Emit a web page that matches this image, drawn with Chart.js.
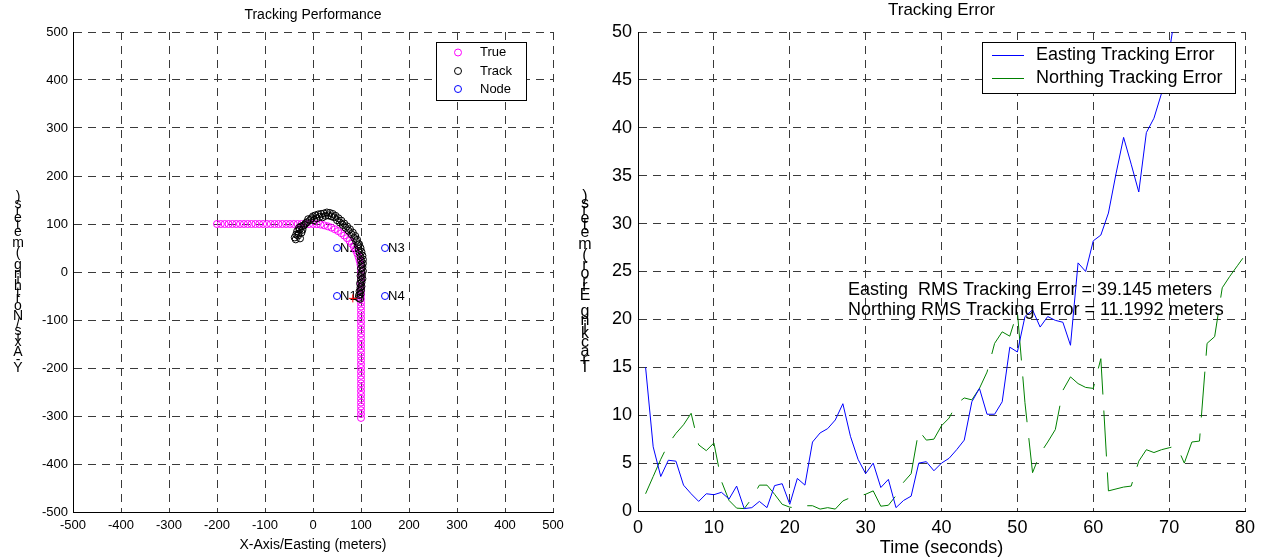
<!DOCTYPE html>
<html>
<head>
<meta charset="utf-8">
<script src="https://cdn.jsdelivr.net/npm/chart.js@4.4.0/dist/chart.umd.min.js"></script>
<style>
  body { margin: 0; background: #fff; width: 1265px; height: 560px; position: relative; overflow: hidden; }
  #left { position: absolute; left: 0; top: 0; }
  #right { position: absolute; left: 560px; top: 0; }
</style>
</head>
<body>
<canvas id="left" width="600" height="560"></canvas>
<canvas id="right" width="705" height="560"></canvas>
<script>
// ---- left plot: tracking performance ----
const trueX = [-200,-192,-184,-176,-168,-160,-152,-144,-136,-128,-120,-112,-104,-96,-88,-80,-72,-64,-56,-48,-40,-32,-24,-16,-8,0,
  7.8,15.6,23.3,30.9,38.3,45.4,52.2,58.8,64.9,70.7,76.0,80.9,85.3,89.1,92.4,95.1,97.2,98.8,99.7,100,
  100,100,100,100,100,100,100,100,100,100,100,100,100,100,100,100,100,100,100,100,
  100,100,100,100,100,100,100,100,100,100,100,100,100,100,100,100,100,100];
const trueY = [100,100,100,100,100,100,100,100,100,100,100,100,100,100,100,100,100,100,100,100,100,100,100,100,100,100,
  99.7,98.8,97.2,95.1,92.4,89.1,85.3,80.9,76.0,70.7,64.9,58.8,52.2,45.4,38.3,30.9,23.3,15.6,7.8,0,
  -8,-16,-24,-32,-40,-48,-56,-64,-72,-80,-88,-96,-104,-112,-120,-128,-136,-144,-152,-160,
  -168,-176,-184,-192,-200,-208,-216,-224,-232,-240,-248,-256,-264,-272,-280,-288,-296,-304];

const trackX = [-38,-36,-35,-33,-31,-30,-29,-28,-27,-25,-24,-22,-20,-18,-15,
  -12,-10,-6,-3,0,2,5,8,11,14,17,20,23,26,29,32,35,38,41,44,47,50,53,56,59,62,65,68,71,74,77,80,83,86,88,90,92,93,96,
  95,99,97,101,99,103,100,104,101,104,100,103,101,104,99,102,100,103,98,101,99,101,97,100,96,99,95,98];
const trackY = [72,68,78,85,76,80,92,88,70,95,82,88,96,98,102,
  104,110,108,112,116,108,118,112,120,115,121,114,122,117,124,118,123,116,121,114,117,108,112,103,107,98,101,92,95,86,89,79,82,71,75,64,67,56,58,
  48,50,40,42,32,34,24,26,16,18,8,10,0,2,-8,-6,-16,-14,-24,-22,-32,-30,-40,-38,-48,-46,-54,-56];

const nodeX = [50, 50, 150, 150];
const nodeY = [-50, 50, 50, -50];
const nodeNames = ['N1', 'N2', 'N3', 'N4'];

const finalX = [83];
const finalY = [-55];

const posTicks = [-500, -400, -300, -200, -100, 0, 100, 200, 300, 400, 500];

// ---- right plot: tracking error ----
const timeE = [1,2,3,4,5,6,7,8,9,10,11,12,13,14,15,16,17,18,19,20,21,22,23,24,25,26,27,28,29,30,
  31,32,33,34,35,36,37,38,39,40,41,42,43,44,45,46,47,48,49,50,51,52,53,54,55,56,57,58,59,60,
  61,62,63,64,65,66,67,68,69,70,71];
const eastingErr = [15.0,6.7,3.6,5.3,5.2,2.7,1.8,1.0,1.8,1.7,1.95,1.25,2.6,0.25,0.35,1.0,0.35,2.65,2.85,0.7,
  3.4,2.7,7.2,8.15,8.6,9.5,11.2,7.8,5.4,3.9,5.0,2.45,3.3,0.35,1.1,1.55,5.0,5.15,4.2,5.0,
  5.5,6.4,7.4,11.4,12.8,10.1,10.1,11.4,17.1,16.6,20.3,21.0,19.2,20.3,19.9,19.7,17.3,25.9,25.0,28.2,
  28.8,31.1,35.2,39.0,36.2,33.3,39.5,41.0,43.6,47.8,53.0];

const timeN = [1,2,3,4,5,6,7,8,9,10,11,12,13,14,15,16,17,18,19,20,21,22,23,24,25,26,27,28,29,30,
  31,32,33,34,35,36,37,38,39,40,41,42,43,44,45,46,47,48,49,50,51,52,53,54,55,56,57,58,59,60,
  61,62,63,64,65,66,67,68,69,70,71,72,73,74,75,76,77,78,79,80];
const northingErr = [1.8,3.6,5.4,7.0,8.1,9.0,10.2,6.9,6.3,7.1,3.1,1.1,0.3,0.25,1.3,2.7,2.7,1.75,0.7,0.4,
  0.3,0.55,0.55,0.2,0.35,0.2,1.05,1.4,1.55,1.75,2.1,0.5,0.6,1.6,3.0,3.9,8.4,7.4,7.5,8.9,
  9.7,11.2,11.8,11.6,12.8,14.5,17.5,18.7,18.25,20.8,11.3,4.0,6.0,7.2,8.5,12.6,14.0,13.3,12.9,12.8,
  15.9,2.1,2.3,2.5,2.6,5.2,6.4,6.1,6.4,6.6,6.8,5.0,7.2,7.3,17.5,18.2,23.3,24.5,25.6,26.7];

const timeTicks = [0, 10, 20, 30, 40, 50, 60, 70, 80];
const errTicks = [0, 5, 10, 15, 20, 25, 30, 35, 40, 45, 50];

const rmsLines = ['Easting  RMS Tracking Error = 39.145 meters', 'Northing RMS Tracking Error = 11.1992 meters'];

// ---- helpers ----
const FONT = '"Liberation Sans", Arial, sans-serif';
Chart.defaults.font.family = FONT;
Chart.defaults.color = '#000';

const pts = (xs, ys) => xs.map((x, i) => ({ x: x, y: ys[i] }));

// MATLAB-style stacked y label: upright glyphs laid along a vertical line
function stackedLabel(ctx, text, x, yBottom, yTop, size) {
  ctx.save();
  ctx.font = size + 'px ' + FONT;
  ctx.fillStyle = '#000';
  ctx.textAlign = 'center';
  ctx.textBaseline = 'middle';
  const total = ctx.measureText(text).width;
  const k = (yBottom - yTop) / total;
  let acc = 0;
  for (const ch of text) {
    const w = ctx.measureText(ch).width;
    if (ch !== ' ') ctx.fillText(ch, x, yBottom - k * (acc + w / 2));
    acc += w;
  }
  ctx.restore();
}

function fixedTicks(values) {
  return scale => { scale.ticks = values.map(v => ({ value: v })); };
}

const gridLine = { color: '#3a3a3a', lineWidth: 1, drawTicks: false };

// ---- left chart ----
const leftDecor = {
  id: 'leftDecor',
  beforeDatasetsDraw(chart) {
    const { ctx, scales: { x, y } } = chart;
    ctx.save();
    ctx.font = '13px ' + FONT;
    ctx.fillStyle = '#000';
    ctx.textBaseline = 'middle';
    nodeNames.forEach((n, i) => {
      ctx.fillText(n, x.getPixelForValue(nodeX[i]) + 3, y.getPixelForValue(nodeY[i]));
    });
    ctx.restore();
  },
  afterDraw(chart) {
    const ctx = chart.ctx;
    stackedLabel(ctx, 'Y-Axis/Northing (meters)', 18, 374, 196, 14);
    // legend
    ctx.save();
    ctx.fillStyle = '#fff';
    ctx.fillRect(436, 42, 90, 59);
    ctx.strokeStyle = '#000';
    ctx.lineWidth = 1;
    ctx.strokeRect(436.5, 42.5, 90, 58);
    const items = [['True', '#ff00ff'], ['Track', '#000000'], ['Node', '#0000ff']];
    const rows = [52.5, 71, 89];
    ctx.font = '13px ' + FONT;
    ctx.textBaseline = 'middle';
    items.forEach((it, i) => {
      ctx.beginPath();
      ctx.strokeStyle = it[1];
      ctx.arc(458, rows[i], 3.5, 0, Math.PI * 2);
      ctx.stroke();
      ctx.fillStyle = '#000';
      ctx.fillText(it[0], 480, rows[i]);
    });
    ctx.restore();
  }
};

const circle = (color, order) => ({
  pointStyle: 'circle', pointRadius: 3.5, pointHoverRadius: 3.5,
  pointBorderColor: color, pointBackgroundColor: 'rgba(0,0,0,0)', pointBorderWidth: 1,
  showLine: false, order: order
});

new Chart(document.getElementById('left'), {
  type: 'scatter',
  data: {
    datasets: [
      { label: 'True', data: pts(trueX, trueY), ...circle('#ff00ff', 4) },
      { label: 'Track', data: pts(trackX, trackY), ...circle('#000000', 3) },
      { label: 'Node', data: pts(nodeX, nodeY), ...circle('#0000ff', 2) },
      { label: 'Final', data: pts(finalX, finalY), pointStyle: 'cross', pointRadius: 4,
        pointBorderColor: '#ff0000', pointBorderWidth: 1, showLine: false, order: 1 }
    ]
  },
  options: {
    responsive: false,
    animation: false,
    layout: { padding: { left: 0, right: 47, top: 0, bottom: 0 } },
    plugins: {
      legend: { display: false },
      tooltip: { enabled: false },
      title: {
        display: true, text: 'Tracking Performance', fullSize: false,
        font: { size: 14, weight: 'normal' }, color: '#000',
        padding: { top: 6.6, bottom: 8.6 }
      }
    },
    scales: {
      x: {
        type: 'linear', min: -500, max: 500,
        afterBuildTicks: fixedTicks(posTicks),
        ticks: { padding: 6, font: { size: 13 }, color: '#000', maxRotation: 0 },
        grid: gridLine,
        border: { display: true, color: '#000', dash: [8, 6] },
        title: { display: true, text: 'X-Axis/Easting (meters)', font: { size: 14 }, color: '#000',
          padding: { top: 0, bottom: 6.6 } },
        afterFit: s => { s.height = 48; }
      },
      y: {
        type: 'linear', min: -500, max: 500,
        afterBuildTicks: fixedTicks(posTicks),
        ticks: { padding: 5, font: { size: 13 }, color: '#000' },
        grid: gridLine,
        border: { display: true, color: '#000', dash: [8, 6] },
        afterFit: s => { s.width = 73; }
      }
    }
  },
  plugins: [leftDecor]
});

// ---- right chart ----
const rightDecor = {
  id: 'rightDecor',
  afterDatasetsDraw(chart) {
    const ctx = chart.ctx;
    ctx.save();
    ctx.font = '18px ' + FONT;
    ctx.fillStyle = '#000';
    ctx.textBaseline = 'middle';
    ctx.fillText(rmsLines[0], 848 - 560, 290);
    ctx.fillText(rmsLines[1], 848 - 560, 310);
    ctx.restore();
  },
  afterDraw(chart) {
    const ctx = chart.ctx;
    stackedLabel(ctx, 'Tracking Error (meters)', 25, 373, 194, 16);
    // legend
    const lx = 982 - 560;
    ctx.save();
    ctx.fillStyle = '#fff';
    ctx.fillRect(lx, 42, 253, 51);
    ctx.strokeStyle = '#000';
    ctx.lineWidth = 1;
    ctx.strokeRect(lx + 0.5, 42.5, 253, 51);
    const items = [['Easting Tracking Error', '#0000ff'], ['Northing Tracking Error', '#008000']];
    const rows = [55.5, 78.5];
    ctx.font = '18px ' + FONT;
    ctx.textBaseline = 'middle';
    items.forEach((it, i) => {
      ctx.beginPath();
      ctx.strokeStyle = it[1];
      ctx.moveTo(lx + 10, rows[i]);
      ctx.lineTo(lx + 42, rows[i]);
      ctx.stroke();
      ctx.fillStyle = '#000';
      ctx.fillText(it[0], lx + 54, rows[i]);
    });
    ctx.restore();
  }
};

new Chart(document.getElementById('right'), {
  type: 'line',
  data: {
    datasets: [
      { label: 'Easting Tracking Error', data: pts(timeE, eastingErr), borderColor: '#0000ff',
        borderWidth: 1, pointRadius: 0, tension: 0, fill: false },
      { label: 'Northing Tracking Error', data: pts(timeN, northingErr), borderColor: '#008000',
        borderWidth: 1, pointRadius: 0, tension: 0, fill: false, borderDash: [46, 16] }
    ]
  },
  options: {
    responsive: false,
    animation: false,
    layout: { padding: { left: 0, right: 20, top: 0, bottom: 0 } },
    plugins: {
      legend: { display: false },
      tooltip: { enabled: false },
      title: {
        display: true, text: 'Tracking Error', fullSize: false,
        font: { size: 17, weight: 'normal' }, color: '#000',
        padding: { top: 0, bottom: 11.6 }
      }
    },
    scales: {
      x: {
        type: 'linear', min: 0, max: 80,
        afterBuildTicks: fixedTicks(timeTicks),
        ticks: { padding: 6, font: { size: 18 }, color: '#000', maxRotation: 0 },
        grid: gridLine,
        border: { display: true, color: '#000', dash: [8, 6] },
        title: { display: true, text: 'Time (seconds)', font: { size: 18 }, color: '#000',
          padding: { top: 0, bottom: 1.2 } },
        afterFit: s => { s.height = 49; }
      },
      y: {
        type: 'linear', min: 0, max: 50,
        afterBuildTicks: fixedTicks(errTicks),
        ticks: { padding: 6, font: { size: 18 }, color: '#000' },
        grid: gridLine,
        border: { display: true, color: '#000', dash: [8, 6] },
        afterFit: s => { s.width = 78; }
      }
    }
  },
  plugins: [rightDecor]
});
</script>
</body>
</html>
